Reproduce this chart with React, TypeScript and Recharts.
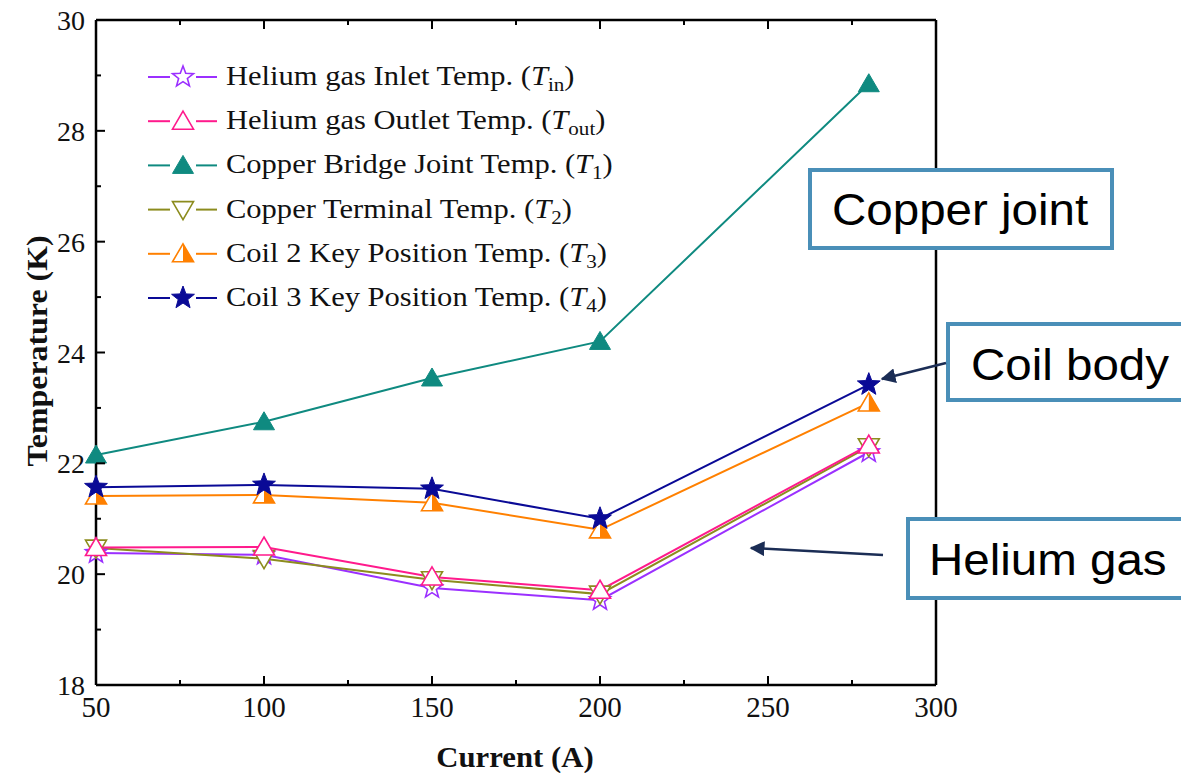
import React from "react";
import { LineChart, Line, XAxis, YAxis } from "recharts";

// currents (A) and measured temperatures (K)
const currents = [50, 100, 150, 200, 280];
const tIn = [20.38, 20.35, 19.75, 19.53, 22.2];
const tOut = [20.48, 20.49, 19.95, 19.71, 22.33];
const t1 = [22.15, 22.75, 23.54, 24.2, 28.85];
const t2 = [20.47, 20.28, 19.9, 19.64, 22.3];
const t3 = [21.41, 21.43, 21.29, 20.8, 23.09];
const t4 = [21.57, 21.61, 21.54, 21.0, 23.42];

const xTicks = [50, 75, 100, 125, 150, 175, 200, 225, 250, 275, 300];
const yTicks = [18, 19, 20, 21, 22, 23, 24, 25, 26, 27, 28, 29, 30];
const xLabels = [50, 100, 150, 200, 250, 300];
const yLabels = [18, 20, 22, 24, 26, 28, 30];

type MarkerKind = "starOpen" | "starFilled" | "triOpen" | "triFilled" | "triDown" | "triHalf";

interface SeriesDef {
  key: string;
  label: string;
  sub: string;
  color: string;
  marker: MarkerKind;
  values: number[];
}

const series: SeriesDef[] = [
  { key: "tIn", label: "Helium gas Inlet Temp. (", sub: "in", color: "#9b30ff", marker: "starOpen", values: tIn },
  { key: "tOut", label: "Helium gas Outlet Temp. (", sub: "out", color: "#ff1a8c", marker: "triOpen", values: tOut },
  { key: "t1", label: "Copper Bridge Joint Temp. (", sub: "1", color: "#0f8a80", marker: "triFilled", values: t1 },
  { key: "t2", label: "Copper Terminal Temp. (", sub: "2", color: "#8c8c1e", marker: "triDown", values: t2 },
  { key: "t3", label: "Coil 2 Key Position Temp. (", sub: "3", color: "#ff8000", marker: "triHalf", values: t3 },
  { key: "t4", label: "Coil 3 Key Position Temp. (", sub: "4", color: "#0a0a96", marker: "starFilled", values: t4 },
];

// draw order keeps the pink outlet markers on top of the helium group
const drawOrder = ["tIn", "t2", "tOut", "t1", "t3", "t4"];

const data = currents.map((c, i) => {
  const row: { [k: string]: number } = { current: c };
  series.forEach((s) => {
    row[s.key] = s.values[i];
  });
  return row;
});

const SERIF = "'Liberation Serif', 'Times New Roman', serif";
const SANS = "'Liberation Sans', Arial, sans-serif";

function starPath(cx: number, cy: number, R: number) {
  const r = R * 0.42;
  const pts: string[] = [];
  for (let i = 0; i < 10; i++) {
    const rad = i % 2 === 0 ? R : r;
    const a = -Math.PI / 2 + (i * Math.PI) / 5;
    pts.push(`${(cx + rad * Math.cos(a)).toFixed(2)},${(cy + rad * Math.sin(a)).toFixed(2)}`);
  }
  return "M" + pts.join("L") + "Z";
}

function Marker({ kind, cx, cy, color }: { kind: MarkerKind; cx: number; cy: number; color: string }) {
  const w = 10.5;
  const up = `${cx},${cy - 10} ${cx + w},${cy + 8} ${cx - w},${cy + 8}`;
  switch (kind) {
    case "starOpen":
      return <path d={starPath(cx, cy, 11)} fill="#fff" stroke={color} strokeWidth={1.6} />;
    case "starFilled":
      return <path d={starPath(cx, cy, 12)} fill={color} stroke={color} strokeWidth={1} />;
    case "triOpen":
      return <polygon points={up} fill="#fff" stroke={color} strokeWidth={1.6} />;
    case "triFilled":
      return <polygon points={up} fill={color} stroke={color} strokeWidth={1} />;
    case "triDown":
      return (
        <polygon
          points={`${cx - w},${cy - 8} ${cx + w},${cy - 8} ${cx},${cy + 10}`}
          fill="#fff"
          stroke={color}
          strokeWidth={1.6}
        />
      );
    case "triHalf":
      return (
        <g>
          <polygon points={up} fill="#fff" stroke={color} strokeWidth={1.6} />
          <polygon points={`${cx},${cy - 10} ${cx + w},${cy + 8} ${cx},${cy + 8}`} fill={color} />
        </g>
      );
  }
  return null;
}

function BottomTick(props: any) {
  const { x, y, payload } = props;
  const major = xLabels.includes(payload.value);
  return (
    <g>
      <line x1={x} y1={y} x2={x} y2={y - (major ? 9 : 5)} stroke="#000" strokeWidth={2} />
      {major && (
        <text x={x} y={y + 32} textAnchor="middle" fontFamily={SERIF} fontSize={29} fill="#111">
          {payload.value}
        </text>
      )}
    </g>
  );
}

function TopTick(props: any) {
  const { x, y, payload } = props;
  const major = xLabels.includes(payload.value);
  return <line x1={x} y1={y} x2={x} y2={y + (major ? 9 : 5)} stroke="#000" strokeWidth={2} />;
}

function LeftTick(props: any) {
  const { x, y, payload } = props;
  const major = yLabels.includes(payload.value);
  return (
    <g>
      <line x1={x} y1={y} x2={x + (major ? 9 : 5)} y2={y} stroke="#000" strokeWidth={2} />
      {major && (
        <text x={x - 11} y={y + 10} textAnchor="end" fontFamily={SERIF} fontSize={28} fill="#111">
          {payload.value}
        </text>
      )}
    </g>
  );
}

function RightTick(props: any) {
  const { x, y, payload } = props;
  const major = yLabels.includes(payload.value);
  return <line x1={x} y1={y} x2={x - (major ? 9 : 5)} y2={y} stroke="#000" strokeWidth={2} />;
}

// legend sits inside the plot frame, top-left
function LegendBox({ left, top }: { left: number; top: number }) {
  return (
    <g transform={`translate(${left} ${top})`}>
      {series.map((s, i) => {
        const y = 22 + i * 44.2;
        return (
          <g key={s.key}>
            <line x1={9} y1={y} x2={31} y2={y} stroke={s.color} strokeWidth={2} />
            <line x1={57} y1={y} x2={78} y2={y} stroke={s.color} strokeWidth={2} />
            <Marker kind={s.marker} cx={44} cy={y} color={s.color} />
            <text
              x={87}
              y={y + 8}
              fontFamily={SERIF}
              fontSize={27.5}
              fill="#111"
              transform={`translate(87 0) scale(1.11 1) translate(-87 0)`}
            >
              {s.label}
              <tspan fontStyle="italic">T</tspan>
              <tspan fontSize={19} dy={6}>
                {s.sub}
              </tspan>
              <tspan dy={-6}>)</tspan>
            </text>
          </g>
        );
      })}
    </g>
  );
}

function Callout({ x, y, w, h, text, tx, by }: { x: number; y: number; w: number; h: number; text: string; tx: number; by: number }) {
  return (
    <g>
      <rect x={x} y={y} width={w} height={h} fill="#fff" stroke="#4a8fb8" strokeWidth={4} />
      <text
        x={tx}
        y={by}
        fontFamily={SANS}
        fontSize={44}
        fill="#000"
        transform={`translate(${tx} 0) scale(1.08 1) translate(${-tx} 0)`}
      >
        {text}
      </text>
    </g>
  );
}

export default function App() {
  return (
    <div style={{ position: "absolute", left: 0, top: 0, width: 1181, height: 773, background: "#fff" }}>
      <LineChart
        width={1181}
        height={773}
        data={data}
        margin={{ top: 19, right: 244, bottom: 0, left: 0 }}
      >
        <XAxis
          dataKey="current"
          type="number"
          domain={[50, 300]}
          ticks={xTicks}
          interval={0}
          height={88}
          tickSize={0}
          tickMargin={0}
          tickLine={false}
          axisLine={{ stroke: "#000", strokeWidth: 2.5 }}
          tick={(p: any) => <BottomTick {...p} />}
          label={{
            content: () => (
              <text
                x={515}
                y={767}
                textAnchor="middle"
                fontFamily={SERIF}
                fontWeight="bold"
                fontSize={29}
                fill="#111"
                transform="translate(515 0) scale(1.06 1) translate(-515 0)"
              >
                Current (A)
              </text>
            ),
          }}
        />
        <XAxis
          xAxisId="top"
          orientation="top"
          dataKey="current"
          type="number"
          domain={[50, 300]}
          ticks={xTicks}
          interval={0}
          height={1}
          tickSize={0}
          tickMargin={0}
          tickLine={false}
          axisLine={{ stroke: "#000", strokeWidth: 2.5 }}
          tick={(p: any) => <TopTick {...p} />}
        />
        <YAxis
          type="number"
          domain={[18, 30]}
          ticks={yTicks}
          interval={0}
          width={96}
          tickSize={0}
          tickMargin={0}
          tickLine={false}
          axisLine={{ stroke: "#000", strokeWidth: 2.5 }}
          tick={(p: any) => <LeftTick {...p} />}
          label={{
            content: () => (
              <text
                x={0}
                y={0}
                transform="translate(47 351) rotate(-90) scale(1.1 1)"
                textAnchor="middle"
                fontFamily={SERIF}
                fontWeight="bold"
                fontSize={29}
                fill="#111"
              >
                Temperature (K)
              </text>
            ),
          }}
        />
        <YAxis
          yAxisId="right"
          orientation="right"
          type="number"
          domain={[18, 30]}
          ticks={yTicks}
          interval={0}
          width={1}
          tickSize={0}
          tickMargin={0}
          tickLine={false}
          axisLine={{ stroke: "#000", strokeWidth: 2.5 }}
          tick={(p: any) => <RightTick {...p} />}
        />
        {drawOrder.map((k) => {
          const s = series.find((d) => d.key === k)!;
          return (
            <Line
              key={s.key}
              dataKey={s.key}
              type="linear"
              stroke={s.color}
              strokeWidth={2}
              isAnimationActive={false}
              dot={(p: any) => (
                <Marker key={`${s.key}-${p.index}`} kind={s.marker} cx={p.cx} cy={p.cy} color={s.color} />
              )}
              activeDot={false}
            />
          );
        })}
      </LineChart>
      <svg
        width={1181}
        height={773}
        style={{ position: "absolute", left: 0, top: 0, pointerEvents: "none" }}
      >
        <defs>
          <marker id="head" viewBox="0 0 10 10" refX="9" refY="5" markerWidth="6" markerHeight="6" orient="auto">
            <path d="M0,0 L10,5 L0,10 Z" fill="#1b2d55" />
          </marker>
        </defs>
        <LegendBox left={139} top={55} />
        <Callout x={810} y={170} w={302} h={78} text="Copper joint" tx={832} by={225} />
        <Callout x={948} y={324} w={240} h={76} text="Coil body" tx={971} by={380} />
        <Callout x={908} y={519} w={280} h={79} text="Helium gas" tx={929} by={575} />
        <line x1={946} y1={363} x2={882} y2={379} stroke="#1b2d55" strokeWidth={2.5} markerEnd="url(#head)" />
        <line x1={883} y1={555} x2={751} y2={548} stroke="#1b2d55" strokeWidth={2.5} markerEnd="url(#head)" />
      </svg>
    </div>
  );
}
